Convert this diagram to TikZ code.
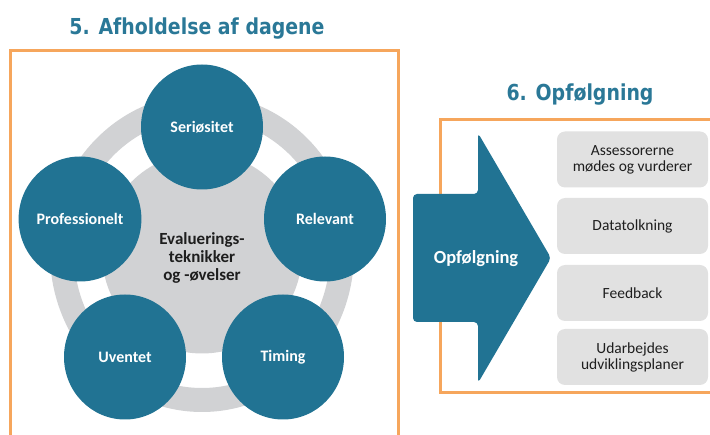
\documentclass[tikz,border=0pt]{standalone}
\usepackage{fontspec}
\setmainfont{Carlito}
\newfontfamily\titlefont[FakeStretch=0.86]{DejaVu Sans}
\usetikzlibrary{shapes.geometric}
\definecolor{dteal}{HTML}{217393}
\definecolor{ttl}{HTML}{2A7897}
\definecolor{ringgray}{HTML}{D1D2D4}
\definecolor{boxgray}{HTML}{E1E1E1}
\definecolor{orng}{HTML}{F6A65C}
\definecolor{txt}{HTML}{1E1E1E}
\tikzset{
  title/.style={font=\titlefont\fontsize{22}{26}\selectfont\bfseries, text=ttl, inner sep=0},
  obox/.style={draw=orng, line width=3pt},
  bub/.style={ellipse, fill=dteal, minimum width=122pt, minimum height=125pt, inner sep=0,
    text=white, font=\fontsize{16}{19}\selectfont\bfseries},
  gbox/.style={rectangle, rounded corners=8pt, fill=boxgray, minimum width=151pt, minimum height=56pt,
    inner sep=0, align=center, text=txt, font=\fontsize{15.5}{16}\selectfont},
}
\begin{document}
\begin{tikzpicture}[x=1pt,y=-1pt]
\useasboundingbox (0,0) rectangle (710,435);
\clip (0,0) rectangle (710,435);
% titles
\node[title] (t1) at (197,29) {5. Afholdelse af dagene};
\node[title] (t2) at (580,95) {6. Opfølgning};
% frames
\draw[obox] (10,450) -- (10,51) -- (398,51) -- (398,450);
\draw[obox] (720,120) -- (440,120) -- (440,393) -- (720,393);
% ring
\fill[ringgray, even odd rule] (202,253) ellipse [x radius=152pt, y radius=159pt]
  (202,253) ellipse [x radius=128pt, y radius=135pt];
\node[ellipse, fill=ringgray, minimum width=200pt, minimum height=201pt, inner sep=0] (core) at (202,253) {};
\node[align=center, text=txt, font=\fontsize{17}{18}\selectfont\bfseries, inner sep=0] (ctext) at (202,258)
  {Evaluerings-\\teknikker\\og -øvelser};
% bubbles
\node[bub] (s1) at (202,127) {Seriøsitet};
\node[bub] (s2) at (325,219) {Relevant};
\node[bub] (s3) at (283,357) {Timing};
\node[bub] (s4) at (125,357) {Uventet};
\node[bub] (s5) at (80,219) {Professionelt};
% arrow
\fill[dteal, rounded corners=4pt] (413,194) -- (478,194) -- (478,133) -- (551,258) -- (478,383)
  -- (478,322) -- (413,322) -- cycle;
\node[text=white, font=\fontsize{18.5}{22}\selectfont\bfseries, inner sep=0] (arr) at (476,259) {Opfølgning};
% boxes
\node[gbox] (b1) at (632.5,159.5) {Assessorerne\\mødes og vurderer};
\node[gbox] (b2) at (632.5,226) {Datatolkning};
\node[gbox] (b3) at (632.5,293) {Feedback};
\node[gbox] (b4) at (632.5,357) {Udarbejdes\\udviklingsplaner};
\end{tikzpicture}
\end{document}
